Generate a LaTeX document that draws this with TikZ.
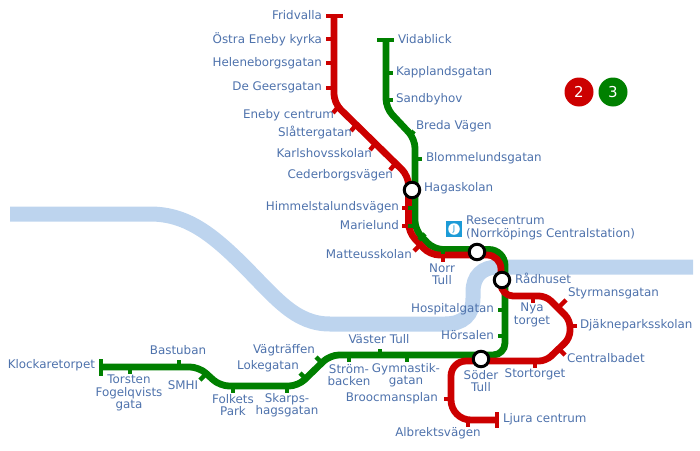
\documentclass[tikz,border=0pt]{standalone}
\usepackage{fontspec}
\setmainfont{DejaVu Sans}
\definecolor{redline}{HTML}{CC0000}
\definecolor{greenline}{HTML}{008000}
\definecolor{river}{HTML}{BDD4EE}
\definecolor{labelc}{HTML}{4E72AC}
\definecolor{iconc}{HTML}{1C9BD7}
\tikzset{
  every node/.style={inner sep=0pt,outer sep=0pt},
  lbl/.style={text=labelc,font=\fontsize{11.9}{12.4}\selectfont,align=center},
  rl/.style={draw=redline,line width=6.8pt,rounded corners=9pt},
  gl/.style={draw=greenline,line width=6.8pt,rounded corners=9pt},
  rt/.style={draw=redline,line width=4.4pt},
  gt/.style={draw=greenline,line width=4.4pt},
  inter/.style={circle,draw=black,fill=white,line width=3pt,minimum size=15.5pt},
  lineno/.style={circle,minimum size=29pt,text=white,font=\fontsize{15}{15}\selectfont},
}
\begin{document}
\begin{tikzpicture}[x=1pt,y=-1pt]
\useasboundingbox (0,0) rectangle (700,450);
% river
\draw[draw=river,line width=15pt]
  (10,214) -- (150,214) .. controls (185,214) and (210,232) .. (243,265)
  .. controls (276,298) and (295,324) .. (330,324) -- (445,324)
  .. controls (463,324) and (473,315) .. (473,298) -- (473,292)
  .. controls (473,276) and (482,267) .. (498,267) -- (693,267);
% green line 3
\draw[gl] (386,40) -- (386,108) -- (415,139) -- (415,230) -- (434,249.5) [rounded corners=16pt] -- (505,249.5) [rounded corners=12pt] -- (505,355) [rounded corners=9pt] -- (330,355) -- (298,386) -- (220,386) -- (199,367) -- (101,367);
% red line 2
\draw[rl] (334,16) -- (334,103) -- (408.5,176) -- (408.5,232) -- (430,255) [rounded corners=14pt] -- (501,255) [rounded corners=12pt] -- (501,296) [rounded corners=7pt] -- (546,296) -- (570,320) -- (570,338) -- (546,361) [rounded corners=15pt] -- (451,361) [rounded corners=20pt] -- (451,420) -- (497,420);
% green ticks
\draw[gt] (377,40) -- (394,40);
\draw[gt] (101,359) -- (101,376);
\draw[gt] (386,73) -- (393,73);
\draw[gt] (386,100) -- (393,100);
\draw[gt] (409,137) -- (414,131);
\draw[gt] (415,159) -- (422,159);
\draw[gt] (415,208) -- (408,208);
\draw[gt] (415,226) -- (408,226);
\draw[gt] (419,240) -- (425,234);
\draw[gt] (443,249) -- (443,254);
\draw[gt] (505,310) -- (498,310);
\draw[gt] (505,336) -- (498,336);
\draw[gt] (380,355) -- (380,349);
\draw[gt] (349,355) -- (349,362);
\draw[gt] (407,355) -- (407,362);
\draw[gt] (322,363) -- (316,357);
\draw[gt] (306,379) -- (300,373);
\draw[gt] (287,386) -- (287,393);
\draw[gt] (233,386) -- (233,393);
\draw[gt] (179,367) -- (179,360);
\draw[gt] (130,367) -- (130,374);
\draw[gt] (206,374) -- (200,380);
% red ticks
\draw[rt] (326,16) -- (343,16);
\draw[rt] (334,39) -- (326,39);
\draw[rt] (334,63) -- (326,63);
\draw[rt] (334,88) -- (326,88);
\draw[rt] (338,107) -- (333,113);
\draw[rt] (356,125) -- (351,131);
\draw[rt] (375,144) -- (370,150);
\draw[rt] (395,164) -- (390,170);
\draw[rt] (408,208) -- (402,208);
\draw[rt] (408,226) -- (402,226);
\draw[rt] (420,245) -- (414,251);
\draw[rt] (443,255) -- (443,262);
\draw[rt] (533,296) -- (533,303);
\draw[rt] (560,306) -- (566,300);
\draw[rt] (570,326) -- (577,326);
\draw[rt] (559,349) -- (565,355);
\draw[rt] (535,361) -- (535,368);
\draw[rt] (451,399) -- (444,399);
\draw[rt] (468,420) -- (468,427);
\draw[rt] (497,412) -- (497,428);
% interchanges
\node[inter] (haga) at (412,190) {};
\node[inter] (rese) at (477,252) {};
\node[inter] (rad) at (502,280) {};
\node[inter] (soder) at (481,359) {};
% line numbers
\node[lineno,fill=redline] (l2) at (579,92) {2};
\node[lineno,fill=greenline] (l3) at (613,92) {3};
% icon
\node[fill=iconc,minimum size=15.5pt] (icon) at (454,229) {};
\node[circle,fill=white,minimum size=11.5pt,text=iconc,font=\fontsize{8}{8}\selectfont] (iconj) at (454,229) {J};
% labels
\node[lbl,anchor=east] (n1) at (322,15) {Fridvalla};
\node[lbl,anchor=east] (n2) at (322,39) {Östra Eneby kyrka};
\node[lbl,anchor=east] (n3) at (322,63) {Heleneborgsgatan};
\node[lbl,anchor=east] (n4) at (322,87) {De Geersgatan};
\node[lbl,anchor=east] (n5) at (334,115) {Eneby centrum};
\node[lbl,anchor=east] (n6) at (352,133) {Slåttergatan};
\node[lbl,anchor=east] (n7) at (372,153) {Karlshovsskolan};
\node[lbl,anchor=east] (n8) at (393,175) {Cederborgsvägen};
\node[lbl,anchor=east] (n9) at (399,207) {Himmelstalundsvägen};
\node[lbl,anchor=east] (n10) at (399,225) {Marielund};
\node[lbl,anchor=east] (n11) at (412,254) {Matteusskolan};
\node[lbl,anchor=west] (n12) at (398,39) {Vidablick};
\node[lbl,anchor=west] (n13) at (396,72) {Kapplandsgatan};
\node[lbl,anchor=west] (n14) at (396,99) {Sandbyhov};
\node[lbl,anchor=west] (n15) at (416,126) {Breda Vägen};
\node[lbl,anchor=west] (n16) at (426,158) {Blommelundsgatan};
\node[lbl,anchor=west] (n17) at (424,188) {Hagaskolan};
\node[lbl,anchor=west,align=left] (n18) at (466,228) {Resecentrum\\(Norrköpings Centralstation)};
\node[lbl] (n19) at (442,274) {Norr\\Tull};
\node[lbl,anchor=west] (n20) at (515,278) {Rådhuset};
\node[lbl,anchor=west] (n21) at (568,293) {Styrmansgatan};
\node[lbl] (n22) at (532,315) {Nya\\torget};
\node[lbl,anchor=west] (n23) at (580,325) {Djäkneparksskolan};
\node[lbl,anchor=east] (n24) at (494,309) {Hospitalgatan};
\node[lbl,anchor=east] (n25) at (494,335) {Hörsalen};
\node[lbl,anchor=west] (n26) at (567,358) {Centralbadet};
\node[lbl] (n27) at (535,374) {Stortorget};
\node[lbl] (n28) at (481,381) {Söder\\Tull};
\node[lbl,anchor=east] (n29) at (438,398) {Broocmansplan};
\node[lbl,anchor=west] (n30) at (503,419) {Ljura centrum};
\node[lbl] (n31) at (438,433) {Albrektsvägen};
\node[lbl] (n32) at (379,339) {Väster Tull};
\node[lbl] (n33) at (349,375) {Ström-\\backen};
\node[lbl] (n34) at (406,375) {Gymnastik-\\gatan};
\node[lbl] (n35) at (284,350) {Vägträffen};
\node[lbl] (n36) at (268,366) {Lokegatan};
\node[lbl] (n37) at (287,405) {Skarps-\\hagsgatan};
\node[lbl] (n38) at (233,405) {Folkets\\Park};
\node[lbl] (n39) at (183,385) {SMHI};
\node[lbl] (n40) at (178,350) {Bastuban};
\node[lbl] (n41) at (129,393) {Torsten\\Fogelqvists\\gata};
\node[lbl,anchor=east] (n42) at (95,365) {Klockaretorpet};
\end{tikzpicture}
\end{document}
